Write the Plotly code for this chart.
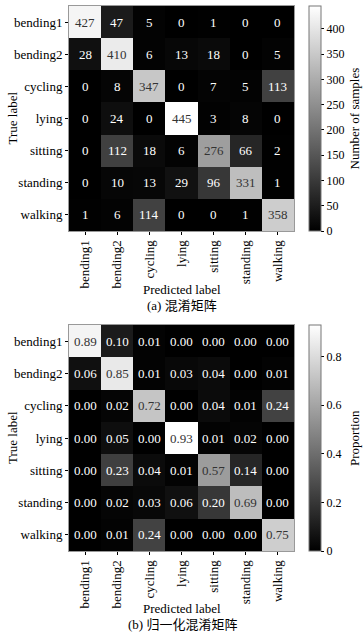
import plotly.graph_objects as go

labels = ["bending1", "bending2", "cycling", "lying", "sitting", "standing", "walking"]

counts = [
    [427, 47, 5, 0, 1, 0, 0],
    [28, 410, 6, 13, 18, 0, 5],
    [0, 8, 347, 0, 7, 5, 113],
    [0, 24, 0, 445, 3, 8, 0],
    [0, 112, 18, 6, 276, 66, 2],
    [0, 10, 13, 29, 96, 331, 1],
    [1, 6, 114, 0, 0, 1, 358],
]

proportions = [
    [0.89, 0.10, 0.01, 0.00, 0.00, 0.00, 0.00],
    [0.06, 0.85, 0.01, 0.03, 0.04, 0.00, 0.01],
    [0.00, 0.02, 0.72, 0.00, 0.04, 0.01, 0.24],
    [0.00, 0.05, 0.00, 0.93, 0.01, 0.02, 0.00],
    [0.00, 0.23, 0.04, 0.01, 0.57, 0.14, 0.00],
    [0.00, 0.02, 0.03, 0.06, 0.20, 0.69, 0.00],
    [0.00, 0.01, 0.24, 0.00, 0.00, 0.00, 0.75],
]

cb1_ticks = [0, 50, 100, 150, 200, 250, 300, 350, 400]
cb2_ticks = [0, 0.2, 0.4, 0.6, 0.8]
cb2_text = ["0", "0.2", "0.4", "0.6", "0.8"]

W, H = 364, 634
SERIF = "Liberation Serif, Times New Roman, serif"
CJK = "Liberation Serif, Noto Sans CJK SC, serif"
gray = [[0, "#000000"], [1, "#ffffff"]]

def px_x(p):
    return p / W

def px_y(p):
    return 1 - p / H

fig = go.Figure()

panels = [
    dict(z=counts, fmt="{:d}", top=6, bot=231, xa="x", ya="y", cbtitle="Number of samples",
         tickvals=cb1_ticks, ticktext=[str(t) for t in cb1_ticks], xlab=289, cap=305,
         captext="(a) 混淆矩阵"),
    dict(z=proportions, fmt="{:.2f}", top=325, bot=551, xa="x2", ya="y2", cbtitle="Proportion",
         tickvals=cb2_ticks, ticktext=cb2_text, xlab=608, cap=624,
         captext="(b) 归一化混淆矩阵"),
]

annotations = []
for p in panels:
    zmax = max(max(r) for r in p["z"])
    fig.add_trace(go.Heatmap(
        z=p["z"], x=labels, y=labels, xaxis=p["xa"], yaxis=p["ya"],
        colorscale=gray, zmin=0, zmax=zmax, hoverinfo="skip",
        colorbar=dict(
            x=px_x(309), xanchor="left", xpad=0, ypad=0,
            y=px_y((p["top"] + p["bot"]) / 2), yanchor="middle",
            len=p["bot"] - p["top"], lenmode="pixels",
            thickness=12, thicknessmode="pixels",
            outlinewidth=1, outlinecolor="#777",
            ticks="outside", ticklen=3, tickcolor="#000",
            tickvals=p["tickvals"], ticktext=p["ticktext"],
            tickfont=dict(family=SERIF, size=12, color="#000"),
        ),
    ))
    thr = zmax / 2
    for i, row in enumerate(p["z"]):
        for j, v in enumerate(row):
            annotations.append(dict(
                x=labels[j], y=labels[i], xref=p["xa"], yref=p["ya"],
                text=p["fmt"].format(v), showarrow=False,
                font=dict(family=SERIF, size=13, color="#333333" if v > thr else "#ffffff"),
            ))
    mid = (p["top"] + p["bot"]) / 2
    base = dict(xref="paper", yref="paper", showarrow=False, xanchor="center", yanchor="middle")
    annotations += [
        dict(x=px_x(354), y=px_y(mid), text=p["cbtitle"], textangle=-90,
             font=dict(family=SERIF, size=13, color="#000"), **base),
        dict(x=px_x(12), y=px_y(mid), text="True label", textangle=-90,
             font=dict(family=SERIF, size=13, color="#000"), **base),
        dict(x=px_x(182), y=px_y(p["xlab"]), text="Predicted label",
             font=dict(family=SERIF, size=13, color="#000"), **base),
        dict(x=px_x(182), y=px_y(p["cap"]), text=p["captext"],
             font=dict(family=CJK, size=13, color="#000"), **base),
    ]

ax_common = dict(
    ticks="outside", ticklen=3, tickcolor="#000", automargin=False,
    showline=True, linecolor="#999", linewidth=1, mirror=True,
    tickfont=dict(family=SERIF, size=13, color="#000"),
    showgrid=False, zeroline=False,
)

fig.update_layout(
    width=W, height=H,
    margin=dict(l=0, r=0, t=0, b=0),
    paper_bgcolor="white", plot_bgcolor="white",
    showlegend=False,
    xaxis=dict(domain=[px_x(69), px_x(294)], anchor="y", tickangle=-90, **ax_common),
    yaxis=dict(domain=[px_y(231), px_y(6)], anchor="x", autorange="reversed", **ax_common),
    xaxis2=dict(domain=[px_x(69), px_x(294)], anchor="y2", tickangle=-90, **ax_common),
    yaxis2=dict(domain=[px_y(551), px_y(325)], anchor="x2", autorange="reversed", **ax_common),
    annotations=annotations,
)

fig.write_html("out.html", config={"displayModeBar": False},
               post_script="document.body.style.margin='0';")
